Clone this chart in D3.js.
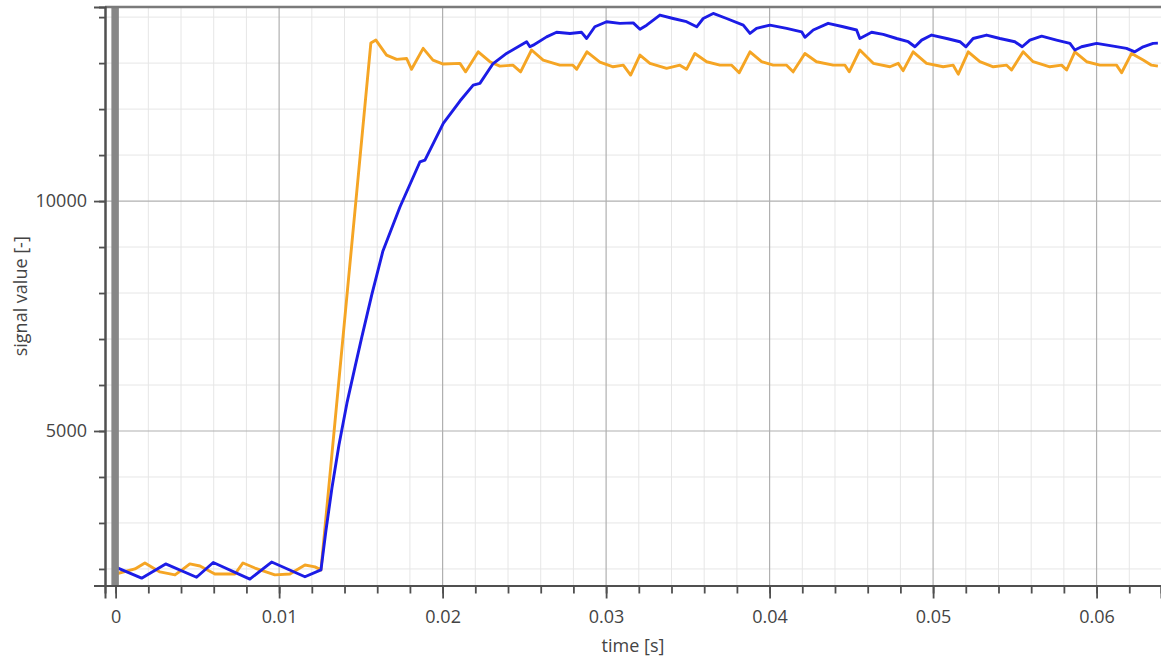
<!DOCTYPE html>
<html>
<head>
<meta charset="utf-8">
<script src="https://cdn.jsdelivr.net/npm/d3@7"></script>
<style>
  html, body { margin: 0; padding: 0; background: #fff; }
  svg { display: block; }
  text { font-family: "Open Sans", "Noto Sans", sans-serif; fill: #444; }
</style>
</head>
<body>
<svg id="chart" width="1161" height="658"></svg>
<script>
// ---- data ----
const blueTime = [0.0000,0.00159,0.00306,0.00495,0.00597,0.00821,0.00954,0.01158,0.01256,
  0.01286,0.01323,0.01366,0.01415,0.01464,0.01506,0.01568,0.01635,0.01739,0.01861,0.01892,0.02004,
  0.02106,0.02187,0.02228,0.02309,0.02391,0.02514,0.02534,0.02554,0.02636,0.02697,0.02779,
  0.02850,0.02881,0.02931,0.03003,0.03084,0.03166,0.03207,0.03248,0.03329,0.03410,0.03492,
  0.03554,0.03594,0.03655,0.03737,0.03839,0.03880,0.03920,0.04002,0.04104,0.04196,0.04216,
  0.04267,0.04358,0.04450,0.04532,0.04552,0.04624,0.04695,0.04777,0.04848,0.04889,0.04930,
  0.04991,0.05083,0.05164,0.05201,0.05245,0.05327,0.05409,0.05500,0.05545,0.05592,0.05664,
  0.05755,0.05837,0.05867,0.05908,0.06000,0.06102,0.06183,0.06234,0.06285,0.06346,0.06375];
const blueValue = [2040,1800,2110,1820,2140,1780,2150,1830,1980,
  2825,3760,4695,5610,6390,7045,7980,8915,9870,10850,10890,11690,
  12175,12520,12560,12990,13210,13465,13355,13390,13570,13670,13645,
  13670,13535,13790,13900,13865,13875,13735,13825,14045,13970,13900,
  13790,13970,14080,13970,13825,13645,13755,13825,13755,13680,13560,
  13720,13865,13790,13720,13535,13670,13625,13535,13465,13355,13500,
  13610,13535,13465,13355,13535,13610,13535,13465,13355,13500,13585,
  13500,13430,13285,13355,13430,13370,13320,13245,13355,13430,13435];

const orangeTime = [0.0000,0.00118,0.00179,0.00271,0.00363,0.00406,0.00454,0.00516,0.00607,
  0.00730,0.00779,0.00852,0.00974,0.01066,0.01158,0.01219,0.01256,0.01561,0.01592,0.01657,
  0.01719,0.01780,0.01810,0.01881,0.01941,0.02004,0.02106,0.02141,0.02218,0.02289,0.02350,
  0.02430,0.02477,0.02544,0.02615,0.02717,0.02797,0.02820,0.02883,0.02962,0.03043,0.03105,
  0.03150,0.03207,0.03268,0.03370,0.03451,0.03492,0.03543,0.03615,0.03696,0.03768,0.03814,
  0.03880,0.03951,0.04022,0.04104,0.04144,0.04216,0.04287,0.04389,0.04461,0.04487,0.04552,
  0.04634,0.04736,0.04787,0.04817,0.04878,0.04960,0.05062,0.05123,0.05154,0.05215,0.05286,
  0.05368,0.05450,0.05480,0.05551,0.05612,0.05714,0.05786,0.05817,0.05867,0.05939,0.06020,
  0.06122,0.06153,0.06214,0.06285,0.06336,0.06375];
const orangeValue = [1890,2000,2130,1935,1870,1980,2110,2065,1890,
  1890,2130,2020,1870,1890,2085,2045,1980,13435,13500,13175,
  13080,13100,12865,13320,13065,12980,12995,12810,13245,13030,12935,
  12955,12810,13285,13065,12955,12955,12865,13245,13020,12920,12955,
  12740,13175,12995,12885,12955,12865,13210,13030,12955,12955,12790,
  13245,13030,12955,12955,12810,13210,13030,12955,12955,12810,13285,
  12995,12920,12995,12835,13245,12995,12920,12955,12760,13245,13030,
  12920,12955,12850,13245,13030,12920,12955,12850,13245,13030,12955,
  12955,12790,13210,13065,12955,12935];

const xMajorTicks = [0, 0.01, 0.02, 0.03, 0.04, 0.05, 0.06];
const xTickLabels = ["0", "0.01", "0.02", "0.03", "0.04", "0.05", "0.06"];
const yMajorTicks = [5000, 10000];
const yTickLabels = ["5000", "10000"];
const yMinorTicks = [2000,3000,4000,5000,6000,7000,8000,9000,10000,11000,12000,13000,14000];
const xMinorTicks = d3.range(0, 33).map(i => +(i * 0.002).toFixed(3));
const xTitle = "time [s]";
const yTitle = "signal value [-]";
const seriesColors = ["#1c1ce6", "#f5a524"];

// ---- layout ----
const plot = { left: 105, right: 1161, top: 7, bottom: 585.5 };
const svg = d3.select("#chart");

const x = d3.scaleLinear().domain([-0.00065, 0.06394]).range([plot.left, plot.right]);
const y = d3.scaleLinear().domain([1640, 14220]).range([plot.bottom, plot.top]);

svg.append("defs").append("clipPath").attr("id", "clip")
  .append("rect").attr("x", plot.left).attr("y", plot.top)
  .attr("width", plot.right - plot.left).attr("height", plot.bottom - plot.top);

const grid = svg.append("g").attr("clip-path", "url(#clip)");
grid.selectAll("line.vminor").data(xMinorTicks.filter(t => !xMajorTicks.some(m => Math.abs(m - t) < 1e-9)))
  .join("line").attr("x1", d => x(d)).attr("x2", d => x(d))
  .attr("y1", plot.top).attr("y2", plot.bottom)
  .attr("stroke", "#e6e6e6").attr("stroke-width", 1);
grid.selectAll("line.hminor").data(yMinorTicks.filter(v => !yMajorTicks.includes(v)))
  .join("line").attr("x1", plot.left).attr("x2", plot.right)
  .attr("y1", d => y(d)).attr("y2", d => y(d))
  .attr("stroke", "#e6e6e6").attr("stroke-width", 1);
grid.append("g").selectAll("line").data(xMajorTicks)
  .join("line").attr("x1", d => x(d)).attr("x2", d => x(d))
  .attr("y1", plot.top).attr("y2", plot.bottom)
  .attr("stroke", "#b0b0b0").attr("stroke-width", 1.2);
grid.append("g").selectAll("line").data(yMajorTicks)
  .join("line").attr("x1", plot.left).attr("x2", plot.right)
  .attr("y1", d => y(d)).attr("y2", d => y(d))
  .attr("stroke", "#b0b0b0").attr("stroke-width", 1.2);

// lines
const line = d3.line().x(d => x(d[0])).y(d => y(d[1]));
const blue = blueTime.map((t, i) => [t, blueValue[i]]);
const orange = orangeTime.map((t, i) => [t, orangeValue[i]]);
const lines = svg.append("g").attr("clip-path", "url(#clip)");
lines.append("path").datum(orange).attr("d", line)
  .attr("fill", "none").attr("stroke", seriesColors[1]).attr("stroke-width", 2.9)
  .attr("stroke-linejoin", "round");
lines.append("path").datum(blue).attr("d", line)
  .attr("fill", "none").attr("stroke", seriesColors[0]).attr("stroke-width", 2.9)
  .attr("stroke-linejoin", "round");

// cursor band at t = 0
svg.append("line").attr("x1", x(0) - 0.5).attr("x2", x(0) - 0.5)
  .attr("y1", plot.top).attr("y2", plot.bottom)
  .attr("stroke", "#878787").attr("stroke-width", 7.5);

// top border
svg.append("line").attr("x1", plot.left).attr("x2", plot.right)
  .attr("y1", plot.top).attr("y2", plot.top)
  .attr("stroke", "#7a7a7a").attr("stroke-width", 2.5);

// axes
const axisColor = "#505050";
const xMinorAxis = d3.axisBottom(x).tickValues(xMinorTicks).tickSize(8).tickFormat("");
const xMajorAxis = d3.axisBottom(x).tickValues(xMajorTicks).tickSize(13)
  .tickFormat((d, i) => xTickLabels[i]).tickPadding(12);
const gxm = svg.append("g").attr("transform", `translate(0,${plot.bottom})`).call(xMinorAxis);
const gx = svg.append("g").attr("transform", `translate(0,${plot.bottom})`).call(xMajorAxis);
[gxm, gx].forEach(g => {
  g.select(".domain").attr("stroke", axisColor).attr("stroke-width", 2);
  g.selectAll(".tick line").attr("stroke", axisColor).attr("stroke-width", 1.8);
});
gx.selectAll(".tick text").attr("font-size", 18).attr("fill", "#444")
  .attr("font-family", '"Open Sans", sans-serif');

const yMinorAxis = d3.axisLeft(y).tickValues(yMinorTicks).tickSize(6).tickFormat("");
const yMajorAxis = d3.axisLeft(y).tickValues(yMajorTicks).tickSize(11)
  .tickFormat((d, i) => yTickLabels[i]).tickPadding(7);
const gym = svg.append("g").attr("transform", `translate(${plot.left},0)`).call(yMinorAxis);
const gy = svg.append("g").attr("transform", `translate(${plot.left},0)`).call(yMajorAxis);
[gym, gy].forEach(g => {
  g.select(".domain").attr("stroke", axisColor).attr("stroke-width", 2);
  g.selectAll(".tick line").attr("stroke", axisColor).attr("stroke-width", 1.8);
});
gy.selectAll(".tick text").attr("font-size", 18).attr("fill", "#444")
  .attr("font-family", '"Open Sans", sans-serif');

// axis titles
svg.append("text").attr("x", (plot.left + plot.right) / 2).attr("y", 652)
  .attr("text-anchor", "middle").attr("font-size", 18).text(xTitle);
svg.append("text")
  .attr("transform", `translate(27,${(plot.top + plot.bottom) / 2}) rotate(-90)`)
  .attr("text-anchor", "middle").attr("font-size", 18).text(yTitle);
</script>
</body>
</html>
